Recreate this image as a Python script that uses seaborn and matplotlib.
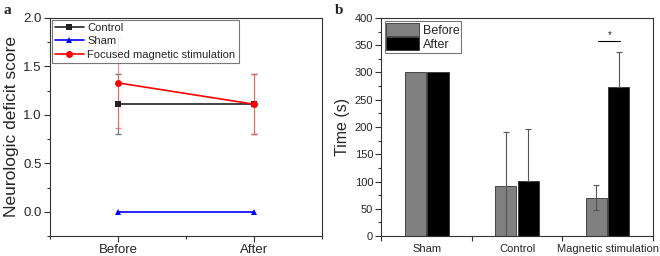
import numpy as np
import pandas as pd
import matplotlib
matplotlib.use("Agg")
import matplotlib.pyplot as plt
from matplotlib.ticker import MultipleLocator, FixedLocator
import seaborn as sns

# ---------- data ----------
time_points = ["Before", "After"]
control_scores = [1.11, 1.11]
control_err = [0.31, 0.31]
sham_scores = [0.0, 0.0]
fms_scores = [1.33, 1.11]
fms_err = [0.47, 0.31]

groups = ["Sham", "Control", "Magnetic stimulation"]
before_time = [300, 92, 70]
after_time = [300, 101, 273]
before_err = [0, 99, 23]
after_err = [0, 96, 64]

sns.set_theme(style="ticks")
plt.rcParams['font.family'] = ['Liberation Sans', 'DejaVu Sans']

fig = plt.figure(figsize=(6.6, 2.56), dpi=100)
axa = fig.add_axes([0.0758, 0.078, 0.412, 0.852])
axb = fig.add_axes([0.578, 0.078, 0.411, 0.852])

# ---------- panel a ----------
xpos = np.arange(len(time_points))
dfa = pd.DataFrame({
    "x": np.concatenate([xpos, xpos, xpos]),
    "score": control_scores + sham_scores + fms_scores,
    "group": ["Control"] * 2 + ["Sham"] * 2 + ["Focused magnetic stimulation"] * 2,
})
axa.errorbar(xpos, control_scores, yerr=control_err, fmt='none', ecolor='#555555',
             elinewidth=0.8, capsize=2, alpha=0.8, zorder=2)
axa.errorbar(xpos, fms_scores, yerr=fms_err, fmt='none', ecolor='#ff6666',
             elinewidth=0.8, capsize=2, alpha=0.8, zorder=2)
sns.lineplot(data=dfa, x="x", y="score", hue="group", style="group",
             palette={"Control": "#222222", "Sham": "#0000ff",
                      "Focused magnetic stimulation": "#ff0000"},
             markers={"Control": "s", "Sham": "^", "Focused magnetic stimulation": "o"},
             dashes=False, markersize=5, linewidth=1.2, markeredgewidth=0,
             ax=axa, zorder=3)
axa.set_xlim(-0.5, 1.5)
axa.set_ylim(-0.25, 2.0)
axa.xaxis.set_major_locator(FixedLocator(xpos))
axa.set_xticklabels(time_points)
axa.xaxis.set_minor_locator(FixedLocator([-0.5, 0.5, 1.5]))
axa.yaxis.set_major_locator(MultipleLocator(0.5))
axa.yaxis.set_minor_locator(MultipleLocator(0.25))
axa.tick_params(axis='both', which='major', direction='out', length=4, width=0.8,
                labelsize=9.5, color='#333333', pad=2)
axa.tick_params(axis='both', which='minor', direction='out', length=2.5, width=0.8,
                color='#333333')
axa.set_xlabel("")
axa.set_ylabel("Neurologic deficit score", fontsize=12.5, labelpad=3)
for s in axa.spines.values():
    s.set_linewidth(0.8)
    s.set_color('#333333')
leg = axa.legend(loc='upper left', fontsize=8, frameon=True, fancybox=False,
                 edgecolor='#555555', borderaxespad=0.15, handlelength=2.6,
                 labelspacing=0.3, borderpad=0.3, handletextpad=0.3)
leg.get_frame().set_linewidth(0.8)
leg.set_zorder(5)

# ---------- panel b ----------
dfb = pd.DataFrame({
    "group": groups * 2,
    "time": before_time + after_time,
    "phase": ["Before"] * 3 + ["After"] * 3,
})
sns.barplot(data=dfb, x="group", y="time", hue="phase", order=groups,
            hue_order=["Before", "After"],
            palette={"Before": "#808080", "After": "#000000"},
            width=0.5, gap=0.06, edgecolor="#333333", linewidth=0.6,
            errorbar=None, ax=axb, zorder=2)
for k, (cont, vals, errs) in enumerate(zip(axb.containers[:2], [before_time, after_time],
                                           [before_err, after_err])):
    cx = np.array([p.get_x() + p.get_width() / 2 for p in cont.patches])
    e = np.array(errs, dtype=float)
    v = np.array(vals, dtype=float)
    mask = e > 0
    lower = e[mask] if k == 0 else np.zeros(mask.sum())
    axb.errorbar(cx[mask], v[mask], yerr=[lower, e[mask]], fmt='none',
                 ecolor='#555555', elinewidth=0.8, capsize=2, capthick=0.8, zorder=3)
# significance marker
axb.plot([1.90, 2.14], [358, 358], color='black', linewidth=0.8)
axb.text(2.02, 360, "*", ha='center', va='bottom', fontsize=7)

axb.set_xlim(-0.5, 2.5)
axb.set_ylim(0, 400)
axb.xaxis.set_major_locator(FixedLocator([0, 1, 2]))
axb.set_xticklabels(groups)
axb.xaxis.set_minor_locator(FixedLocator([-0.5, 0.5, 1.5, 2.5]))
axb.yaxis.set_major_locator(MultipleLocator(50))
axb.yaxis.set_minor_locator(MultipleLocator(25))
axb.tick_params(axis='x', which='major', length=0, labelsize=8, pad=6)
axb.tick_params(axis='x', which='minor', direction='out', length=3.5, width=0.8, color='#333333')
axb.tick_params(axis='y', which='major', direction='out', length=4, width=0.8,
                labelsize=8, color='#333333', pad=2)
axb.tick_params(axis='y', which='minor', direction='out', length=2.5, width=0.8, color='#333333')
axb.set_xlabel("")
axb.set_ylabel("Time (s)", fontsize=11.5, labelpad=3)
for s in axb.spines.values():
    s.set_linewidth(0.8)
    s.set_color('#333333')
legb = axb.legend(loc='upper left', fontsize=9, frameon=True, fancybox=False,
                  edgecolor='#555555', borderaxespad=0.25, handlelength=2.6,
                  handleheight=1.2, labelspacing=0.05, borderpad=0.15,
                  handletextpad=0.3)
legb.get_frame().set_linewidth(0.8)
for h in legb.legend_handles:
    h.set_edgecolor('#333333')

# panel labels
fig.text(0.005, 0.985, "a", fontsize=11, fontweight='bold', family='Liberation Serif',
         ha='left', va='top')
fig.text(0.508, 0.985, "b", fontsize=11, fontweight='bold', family='Liberation Serif',
         ha='left', va='top')

fig.savefig("out.png", dpi=100)
